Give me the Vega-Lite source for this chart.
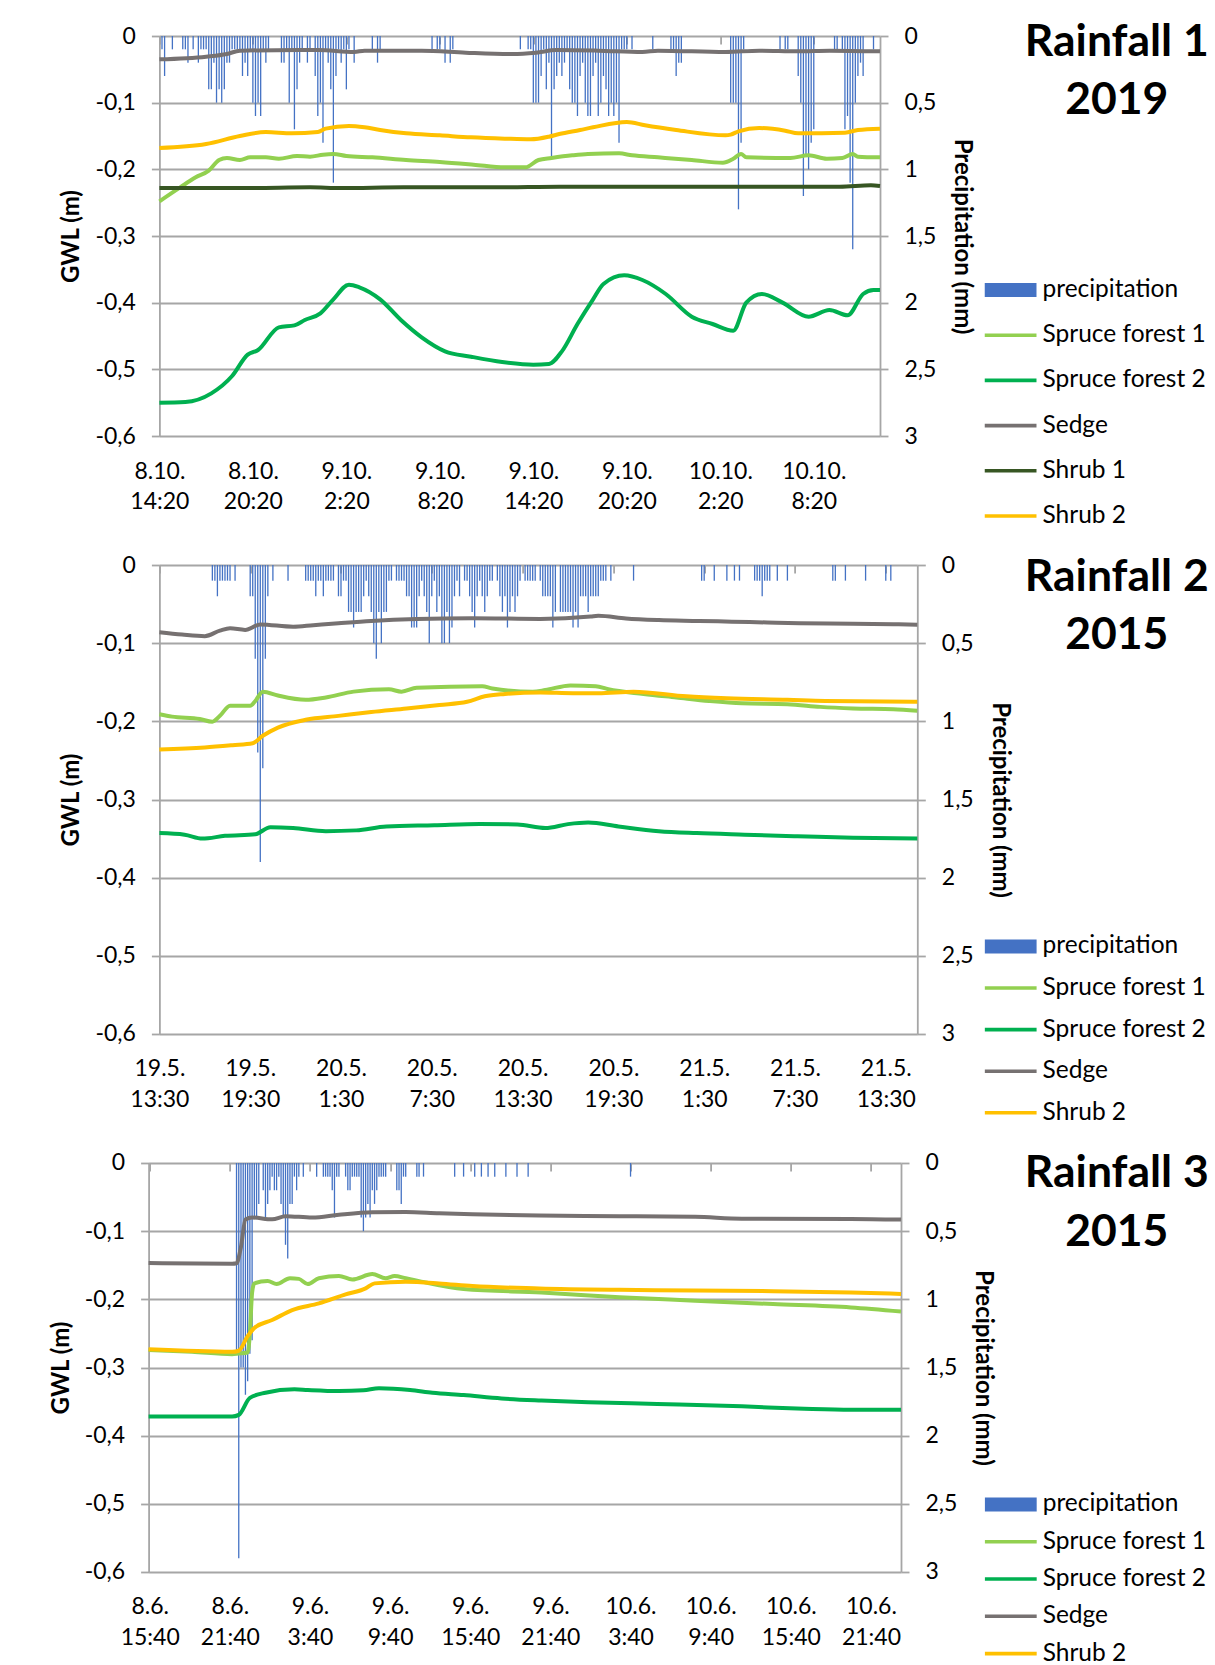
{
  "$schema": "https://vega.github.io/schema/vega-lite/v6.json",
  "background": "white",
  "padding": {"left": 48.6, "top": 19, "right": 0, "bottom": 0},
  "config": {
    "font": "Lato",
    "view": {"stroke": null},
    "axis": {
      "labelFont": "Lato", "labelFontSize": 23, "labelColor": "#000000",
      "titleFont": "Lato", "titleFontSize": 24, "titleFontWeight": "bold", "titleColor": "#000000",
      "gridColor": "#A6A6A6", "gridWidth": 1.8,
      "domainColor": "#A6A6A6", "domainWidth": 1.8,
      "tickColor": "#A6A6A6", "tickWidth": 1.8, "tickSize": 8,
      "labelPadding": 16
    },
    "legend": {
      "labelFont": "Lato", "labelFontSize": 24.5, "labelColor": "#000000", "labelLimit": 400,
      "symbolSize": 2704, "symbolStrokeWidth": 0, "labelOffset": 6, "padding": 0, "clipHeight": 25
    },
    "title": {
      "font": "Lato", "fontSize": 44.5, "fontWeight": "bold", "color": "#000000",
      "anchor": "start", "frame": "group", "baseline": "alphabetic",
      "lineHeight": 59, "offset": 0
    }
  },
  "datasets": {
    "rain1": [
      {"t":"2019-10-08T14:30","p":0.1},{"t":"2019-10-08T14:40","p":0.3},{"t":"2019-10-08T15:10","p":0.1},{"t":"2019-10-08T15:50","p":0.1},
      {"t":"2019-10-08T16:00","p":0.1},{"t":"2019-10-08T16:10","p":0.2},{"t":"2019-10-08T16:30","p":0.1},{"t":"2019-10-08T16:50","p":0.2},
      {"t":"2019-10-08T17:00","p":0.1},{"t":"2019-10-08T17:10","p":0.1},{"t":"2019-10-08T17:20","p":0.1},{"t":"2019-10-08T17:30","p":0.4},
      {"t":"2019-10-08T17:40","p":0.4},{"t":"2019-10-08T17:50","p":0.2},{"t":"2019-10-08T18:00","p":0.5},{"t":"2019-10-08T18:10","p":0.4},
      {"t":"2019-10-08T18:20","p":0.5},{"t":"2019-10-08T18:30","p":0.4},{"t":"2019-10-08T18:40","p":0.2},{"t":"2019-10-08T18:50","p":0.2},
      {"t":"2019-10-08T19:00","p":0.1},{"t":"2019-10-08T19:10","p":0.1},{"t":"2019-10-08T19:20","p":0.1},{"t":"2019-10-08T19:30","p":0.1},
      {"t":"2019-10-08T19:40","p":0.3},{"t":"2019-10-08T19:50","p":0.2},{"t":"2019-10-08T20:00","p":0.3},{"t":"2019-10-08T20:10","p":0.1},
      {"t":"2019-10-08T20:20","p":0.5},{"t":"2019-10-08T20:30","p":0.6},{"t":"2019-10-08T20:40","p":0.5},{"t":"2019-10-08T20:50","p":0.6},
      {"t":"2019-10-08T21:00","p":0.1},{"t":"2019-10-08T21:10","p":0.2},{"t":"2019-10-08T21:20","p":0.1},{"t":"2019-10-08T22:10","p":0.2},
      {"t":"2019-10-08T22:20","p":0.2},{"t":"2019-10-08T22:30","p":0.1},{"t":"2019-10-08T22:40","p":0.5},{"t":"2019-10-08T22:50","p":0.1},
      {"t":"2019-10-08T23:00","p":0.7},{"t":"2019-10-08T23:10","p":0.4},{"t":"2019-10-08T23:20","p":0.2},{"t":"2019-10-08T23:30","p":0.1},
      {"t":"2019-10-08T23:50","p":0.2},
      {"t":"2019-10-09T00:00","p":0.1},{"t":"2019-10-09T00:20","p":0.3},{"t":"2019-10-09T00:30","p":0.6},{"t":"2019-10-09T00:40","p":0.5},
      {"t":"2019-10-09T00:50","p":0.8},{"t":"2019-10-09T01:00","p":0.1},{"t":"2019-10-09T01:10","p":0.2},{"t":"2019-10-09T01:20","p":0.4},
      {"t":"2019-10-09T01:30","p":1.1},{"t":"2019-10-09T01:40","p":0.3},{"t":"2019-10-09T01:50","p":0.1},{"t":"2019-10-09T02:00","p":0.2},
      {"t":"2019-10-09T02:10","p":0.1},{"t":"2019-10-09T02:20","p":0.4},{"t":"2019-10-09T02:30","p":0.1},{"t":"2019-10-09T02:50","p":0.2},
      {"t":"2019-10-09T04:00","p":0.1},{"t":"2019-10-09T04:20","p":0.2},{"t":"2019-10-09T04:30","p":0.1},{"t":"2019-10-09T07:50","p":0.1},
      {"t":"2019-10-09T08:10","p":0.1},{"t":"2019-10-09T08:20","p":0.1},{"t":"2019-10-09T08:40","p":0.2},{"t":"2019-10-09T09:00","p":0.2},
      {"t":"2019-10-09T09:10","p":0.1},{"t":"2019-10-09T13:30","p":0.1},{"t":"2019-10-09T14:00","p":0.1},{"t":"2019-10-09T14:10","p":0.1},
      {"t":"2019-10-09T14:20","p":0.5},{"t":"2019-10-09T14:30","p":0.5},{"t":"2019-10-09T14:40","p":0.5},{"t":"2019-10-09T14:50","p":0.3},
      {"t":"2019-10-09T15:00","p":0.1},{"t":"2019-10-09T15:10","p":0.4},{"t":"2019-10-09T15:20","p":0.2},{"t":"2019-10-09T15:30","p":0.9},
      {"t":"2019-10-09T15:40","p":0.4},{"t":"2019-10-09T15:50","p":0.3},{"t":"2019-10-09T16:00","p":0.2},{"t":"2019-10-09T16:10","p":0.3},
      {"t":"2019-10-09T16:20","p":0.2},{"t":"2019-10-09T16:30","p":0.1},{"t":"2019-10-09T16:40","p":0.4},{"t":"2019-10-09T16:50","p":0.5},
      {"t":"2019-10-09T17:00","p":0.5},{"t":"2019-10-09T17:10","p":0.6},{"t":"2019-10-09T17:20","p":0.3},{"t":"2019-10-09T17:30","p":0.2},
      {"t":"2019-10-09T17:40","p":0.5},{"t":"2019-10-09T17:50","p":0.6},{"t":"2019-10-09T18:00","p":0.6},{"t":"2019-10-09T18:10","p":0.3},
      {"t":"2019-10-09T18:20","p":0.2},{"t":"2019-10-09T18:30","p":0.6},{"t":"2019-10-09T18:40","p":0.5},{"t":"2019-10-09T18:50","p":0.3},
      {"t":"2019-10-09T19:00","p":0.4},{"t":"2019-10-09T19:10","p":0.6},{"t":"2019-10-09T19:20","p":0.5},{"t":"2019-10-09T19:30","p":0.6},
      {"t":"2019-10-09T19:40","p":0.5},{"t":"2019-10-09T19:50","p":0.8},{"t":"2019-10-09T20:00","p":0.1},{"t":"2019-10-09T20:10","p":0.1},
      {"t":"2019-10-09T20:20","p":0.1},{"t":"2019-10-09T20:40","p":0.1},{"t":"2019-10-09T22:00","p":0.1},{"t":"2019-10-09T23:10","p":0.1},
      {"t":"2019-10-09T23:20","p":0.1},{"t":"2019-10-09T23:30","p":0.3},{"t":"2019-10-09T23:40","p":0.2},{"t":"2019-10-09T23:50","p":0.2},
      {"t":"2019-10-10T03:00","p":0.5},{"t":"2019-10-10T03:10","p":0.5},{"t":"2019-10-10T03:20","p":0.5},{"t":"2019-10-10T03:30","p":1.3},
      {"t":"2019-10-10T03:40","p":0.8},{"t":"2019-10-10T03:50","p":0.1},{"t":"2019-10-10T06:10","p":0.1},{"t":"2019-10-10T06:30","p":0.1},
      {"t":"2019-10-10T06:40","p":0.1},{"t":"2019-10-10T07:20","p":0.3},{"t":"2019-10-10T07:30","p":0.5},{"t":"2019-10-10T07:40","p":1.2},
      {"t":"2019-10-10T07:50","p":0.9},{"t":"2019-10-10T08:00","p":1.0},{"t":"2019-10-10T08:10","p":0.8},{"t":"2019-10-10T08:20","p":0.7},
      {"t":"2019-10-10T09:40","p":0.1},{"t":"2019-10-10T09:50","p":0.1},{"t":"2019-10-10T10:10","p":0.1},{"t":"2019-10-10T10:20","p":0.7},
      {"t":"2019-10-10T10:30","p":0.6},{"t":"2019-10-10T10:40","p":1.1},{"t":"2019-10-10T10:50","p":1.6},{"t":"2019-10-10T11:00","p":0.5},
      {"t":"2019-10-10T11:10","p":0.3},{"t":"2019-10-10T11:20","p":0.2},{"t":"2019-10-10T11:30","p":0.3},{"t":"2019-10-10T12:10","p":0.1}
    ],
    "gwl1": [
      {"t":"2019-10-08T14:20","s":"Sedge","v":-0.035},{"t":"2019-10-08T17:20","s":"Sedge","v":-0.031},{"t":"2019-10-08T18:40","s":"Sedge","v":-0.027},
      {"t":"2019-10-08T19:30","s":"Sedge","v":-0.022},{"t":"2019-10-08T23:20","s":"Sedge","v":-0.021},{"t":"2019-10-09T00:30","s":"Sedge","v":-0.021},
      {"t":"2019-10-09T02:50","s":"Sedge","v":-0.024},{"t":"2019-10-09T03:30","s":"Sedge","v":-0.022},{"t":"2019-10-09T07:10","s":"Sedge","v":-0.022},
      {"t":"2019-10-09T10:00","s":"Sedge","v":-0.025},{"t":"2019-10-09T13:00","s":"Sedge","v":-0.027},{"t":"2019-10-09T14:30","s":"Sedge","v":-0.025},
      {"t":"2019-10-09T15:50","s":"Sedge","v":-0.021},{"t":"2019-10-09T18:30","s":"Sedge","v":-0.022},{"t":"2019-10-09T21:20","s":"Sedge","v":-0.024},
      {"t":"2019-10-09T22:20","s":"Sedge","v":-0.022},{"t":"2019-10-10T02:40","s":"Sedge","v":-0.024},{"t":"2019-10-10T04:50","s":"Sedge","v":-0.022},
      {"t":"2019-10-10T07:20","s":"Sedge","v":-0.023},{"t":"2019-10-10T09:20","s":"Sedge","v":-0.022},{"t":"2019-10-10T12:35","s":"Sedge","v":-0.023},

      {"t":"2019-10-08T14:20","s":"Shrub 2","v":-0.168},{"t":"2019-10-08T17:20","s":"Shrub 2","v":-0.162},{"t":"2019-10-08T19:30","s":"Shrub 2","v":-0.150},
      {"t":"2019-10-08T21:10","s":"Shrub 2","v":-0.144},{"t":"2019-10-08T22:50","s":"Shrub 2","v":-0.146},{"t":"2019-10-09T00:30","s":"Shrub 2","v":-0.144},
      {"t":"2019-10-09T01:00","s":"Shrub 2","v":-0.139},{"t":"2019-10-09T02:30","s":"Shrub 2","v":-0.135},{"t":"2019-10-09T03:30","s":"Shrub 2","v":-0.137},
      {"t":"2019-10-09T04:30","s":"Shrub 2","v":-0.141},{"t":"2019-10-09T06:10","s":"Shrub 2","v":-0.146},{"t":"2019-10-09T08:20","s":"Shrub 2","v":-0.149},
      {"t":"2019-10-09T10:20","s":"Shrub 2","v":-0.152},{"t":"2019-10-09T12:30","s":"Shrub 2","v":-0.154},{"t":"2019-10-09T14:10","s":"Shrub 2","v":-0.155},
      {"t":"2019-10-09T15:20","s":"Shrub 2","v":-0.151},{"t":"2019-10-09T16:00","s":"Shrub 2","v":-0.147},{"t":"2019-10-09T17:20","s":"Shrub 2","v":-0.141},
      {"t":"2019-10-09T18:10","s":"Shrub 2","v":-0.137},{"t":"2019-10-09T20:20","s":"Shrub 2","v":-0.129},{"t":"2019-10-09T21:30","s":"Shrub 2","v":-0.134},
      {"t":"2019-10-09T23:30","s":"Shrub 2","v":-0.141},{"t":"2019-10-10T02:40","s":"Shrub 2","v":-0.149},{"t":"2019-10-10T03:00","s":"Shrub 2","v":-0.148},
      {"t":"2019-10-10T03:30","s":"Shrub 2","v":-0.143},{"t":"2019-10-10T04:50","s":"Shrub 2","v":-0.138},{"t":"2019-10-10T06:30","s":"Shrub 2","v":-0.142},
      {"t":"2019-10-10T07:20","s":"Shrub 2","v":-0.146},{"t":"2019-10-10T10:20","s":"Shrub 2","v":-0.145},{"t":"2019-10-10T11:10","s":"Shrub 2","v":-0.141},
      {"t":"2019-10-10T12:35","s":"Shrub 2","v":-0.139},

      {"t":"2019-10-08T14:20","s":"Spruce forest 1","v":-0.248},{"t":"2019-10-08T15:40","s":"Spruce forest 1","v":-0.227},{"t":"2019-10-08T16:40","s":"Spruce forest 1","v":-0.212},
      {"t":"2019-10-08T17:30","s":"Spruce forest 1","v":-0.202},{"t":"2019-10-08T18:10","s":"Spruce forest 1","v":-0.186},{"t":"2019-10-08T18:40","s":"Spruce forest 1","v":-0.183},
      {"t":"2019-10-08T19:30","s":"Spruce forest 1","v":-0.186},{"t":"2019-10-08T20:10","s":"Spruce forest 1","v":-0.182},{"t":"2019-10-08T21:10","s":"Spruce forest 1","v":-0.182},
      {"t":"2019-10-08T22:00","s":"Spruce forest 1","v":-0.184},{"t":"2019-10-08T23:10","s":"Spruce forest 1","v":-0.180},{"t":"2019-10-09T00:00","s":"Spruce forest 1","v":-0.181},
      {"t":"2019-10-09T00:50","s":"Spruce forest 1","v":-0.178},{"t":"2019-10-09T01:30","s":"Spruce forest 1","v":-0.177},{"t":"2019-10-09T02:20","s":"Spruce forest 1","v":-0.180},
      {"t":"2019-10-09T04:00","s":"Spruce forest 1","v":-0.182},{"t":"2019-10-09T06:10","s":"Spruce forest 1","v":-0.186},{"t":"2019-10-09T08:20","s":"Spruce forest 1","v":-0.189},
      {"t":"2019-10-09T10:30","s":"Spruce forest 1","v":-0.193},{"t":"2019-10-09T12:30","s":"Spruce forest 1","v":-0.197},{"t":"2019-10-09T13:50","s":"Spruce forest 1","v":-0.197},
      {"t":"2019-10-09T14:40","s":"Spruce forest 1","v":-0.186},{"t":"2019-10-09T15:30","s":"Spruce forest 1","v":-0.183},{"t":"2019-10-09T16:50","s":"Spruce forest 1","v":-0.179},
      {"t":"2019-10-09T17:50","s":"Spruce forest 1","v":-0.177},{"t":"2019-10-09T19:50","s":"Spruce forest 1","v":-0.176},{"t":"2019-10-09T20:40","s":"Spruce forest 1","v":-0.179},
      {"t":"2019-10-09T22:20","s":"Spruce forest 1","v":-0.182},{"t":"2019-10-10T00:30","s":"Spruce forest 1","v":-0.186},{"t":"2019-10-10T02:30","s":"Spruce forest 1","v":-0.190},
      {"t":"2019-10-10T03:10","s":"Spruce forest 1","v":-0.184},{"t":"2019-10-10T03:40","s":"Spruce forest 1","v":-0.177},{"t":"2019-10-10T04:00","s":"Spruce forest 1","v":-0.182},
      {"t":"2019-10-10T06:50","s":"Spruce forest 1","v":-0.183},{"t":"2019-10-10T08:00","s":"Spruce forest 1","v":-0.179},{"t":"2019-10-10T09:10","s":"Spruce forest 1","v":-0.184},
      {"t":"2019-10-10T10:10","s":"Spruce forest 1","v":-0.183},{"t":"2019-10-10T10:50","s":"Spruce forest 1","v":-0.177},{"t":"2019-10-10T11:10","s":"Spruce forest 1","v":-0.181},
      {"t":"2019-10-10T12:35","s":"Spruce forest 1","v":-0.182},

      {"t":"2019-10-08T14:20","s":"Shrub 1","v":-0.228},{"t":"2019-10-08T20:00","s":"Shrub 1","v":-0.228},{"t":"2019-10-09T00:00","s":"Shrub 1","v":-0.227},
      {"t":"2019-10-09T02:00","s":"Shrub 1","v":-0.228},{"t":"2019-10-09T06:00","s":"Shrub 1","v":-0.227},{"t":"2019-10-09T12:00","s":"Shrub 1","v":-0.227},
      {"t":"2019-10-09T16:00","s":"Shrub 1","v":-0.226},{"t":"2019-10-09T20:00","s":"Shrub 1","v":-0.226},{"t":"2019-10-10T02:00","s":"Shrub 1","v":-0.226},
      {"t":"2019-10-10T06:00","s":"Shrub 1","v":-0.226},{"t":"2019-10-10T10:00","s":"Shrub 1","v":-0.226},{"t":"2019-10-10T12:00","s":"Shrub 1","v":-0.224},
      {"t":"2019-10-10T12:35","s":"Shrub 1","v":-0.225},

      {"t":"2019-10-08T14:20","s":"Spruce forest 2","v":-0.550},{"t":"2019-10-08T16:00","s":"Spruce forest 2","v":-0.549},{"t":"2019-10-08T17:40","s":"Spruce forest 2","v":-0.536},
      {"t":"2019-10-08T19:00","s":"Spruce forest 2","v":-0.510},{"t":"2019-10-08T20:00","s":"Spruce forest 2","v":-0.478},{"t":"2019-10-08T20:40","s":"Spruce forest 2","v":-0.471},
      {"t":"2019-10-08T22:00","s":"Spruce forest 2","v":-0.437},{"t":"2019-10-08T23:00","s":"Spruce forest 2","v":-0.434},{"t":"2019-10-08T23:40","s":"Spruce forest 2","v":-0.426},
      {"t":"2019-10-09T00:40","s":"Spruce forest 2","v":-0.416},{"t":"2019-10-09T01:30","s":"Spruce forest 2","v":-0.395},{"t":"2019-10-09T02:30","s":"Spruce forest 2","v":-0.373},
      {"t":"2019-10-09T03:10","s":"Spruce forest 2","v":-0.377},{"t":"2019-10-09T04:30","s":"Spruce forest 2","v":-0.395},{"t":"2019-10-09T05:50","s":"Spruce forest 2","v":-0.426},
      {"t":"2019-10-09T07:10","s":"Spruce forest 2","v":-0.452},{"t":"2019-10-09T08:40","s":"Spruce forest 2","v":-0.473},{"t":"2019-10-09T10:20","s":"Spruce forest 2","v":-0.481},
      {"t":"2019-10-09T12:20","s":"Spruce forest 2","v":-0.489},{"t":"2019-10-09T14:20","s":"Spruce forest 2","v":-0.493},{"t":"2019-10-09T15:20","s":"Spruce forest 2","v":-0.492},
      {"t":"2019-10-09T16:10","s":"Spruce forest 2","v":-0.473},{"t":"2019-10-09T17:10","s":"Spruce forest 2","v":-0.432},{"t":"2019-10-09T18:10","s":"Spruce forest 2","v":-0.395},
      {"t":"2019-10-09T18:50","s":"Spruce forest 2","v":-0.372},{"t":"2019-10-09T20:10","s":"Spruce forest 2","v":-0.359},{"t":"2019-10-09T21:20","s":"Spruce forest 2","v":-0.366},
      {"t":"2019-10-09T22:50","s":"Spruce forest 2","v":-0.387},{"t":"2019-10-10T00:30","s":"Spruce forest 2","v":-0.421},{"t":"2019-10-10T01:50","s":"Spruce forest 2","v":-0.432},
      {"t":"2019-10-10T03:10","s":"Spruce forest 2","v":-0.442},{"t":"2019-10-10T04:00","s":"Spruce forest 2","v":-0.400},{"t":"2019-10-10T05:00","s":"Spruce forest 2","v":-0.387},
      {"t":"2019-10-10T06:20","s":"Spruce forest 2","v":-0.400},{"t":"2019-10-10T08:00","s":"Spruce forest 2","v":-0.421},{"t":"2019-10-10T09:20","s":"Spruce forest 2","v":-0.411},
      {"t":"2019-10-10T10:30","s":"Spruce forest 2","v":-0.419},{"t":"2019-10-10T11:30","s":"Spruce forest 2","v":-0.387},{"t":"2019-10-10T12:10","s":"Spruce forest 2","v":-0.381},
      {"t":"2019-10-10T12:35","s":"Spruce forest 2","v":-0.381}
    ],
    "rain2": [
      {"t":"2015-05-19T17:00","p":0.1},{"t":"2015-05-19T17:10","p":0.1},{"t":"2015-05-19T17:20","p":0.2},{"t":"2015-05-19T17:30","p":0.1},
      {"t":"2015-05-19T17:40","p":0.1},{"t":"2015-05-19T17:50","p":0.1},{"t":"2015-05-19T18:00","p":0.1},{"t":"2015-05-19T18:10","p":0.1},
      {"t":"2015-05-19T18:30","p":0.1},{"t":"2015-05-19T19:30","p":0.2},{"t":"2015-05-19T19:40","p":0.2},{"t":"2015-05-19T19:50","p":0.6},
      {"t":"2015-05-19T20:00","p":1.2},{"t":"2015-05-19T20:10","p":1.9},{"t":"2015-05-19T20:20","p":1.3},{"t":"2015-05-19T20:30","p":0.6},
      {"t":"2015-05-19T20:40","p":0.2},{"t":"2015-05-19T21:00","p":0.1},{"t":"2015-05-19T22:00","p":0.1},{"t":"2015-05-19T23:10","p":0.1},
      {"t":"2015-05-19T23:20","p":0.1},{"t":"2015-05-19T23:30","p":0.1},{"t":"2015-05-19T23:40","p":0.1},{"t":"2015-05-19T23:50","p":0.2},
      {"t":"2015-05-20T00:00","p":0.1},{"t":"2015-05-20T00:10","p":0.1},{"t":"2015-05-20T00:20","p":0.2},{"t":"2015-05-20T00:30","p":0.1},
      {"t":"2015-05-20T00:40","p":0.1},{"t":"2015-05-20T00:50","p":0.1},{"t":"2015-05-20T01:00","p":0.1},{"t":"2015-05-20T01:20","p":0.2},
      {"t":"2015-05-20T01:30","p":0.2},{"t":"2015-05-20T01:40","p":0.1},{"t":"2015-05-20T01:50","p":0.1},{"t":"2015-05-20T02:00","p":0.3},
      {"t":"2015-05-20T02:10","p":0.3},{"t":"2015-05-20T02:20","p":0.4},{"t":"2015-05-20T02:30","p":0.3},{"t":"2015-05-20T02:40","p":0.3},
      {"t":"2015-05-20T02:50","p":0.3},{"t":"2015-05-20T03:00","p":0.2},{"t":"2015-05-20T03:10","p":0.1},{"t":"2015-05-20T03:20","p":0.2},
      {"t":"2015-05-20T03:30","p":0.3},{"t":"2015-05-20T03:40","p":0.5},{"t":"2015-05-20T03:50","p":0.6},{"t":"2015-05-20T04:00","p":0.3},
      {"t":"2015-05-20T04:10","p":0.5},{"t":"2015-05-20T04:20","p":0.3},{"t":"2015-05-20T04:30","p":0.3},{"t":"2015-05-20T04:40","p":0.1},
      {"t":"2015-05-20T04:50","p":0.1},{"t":"2015-05-20T05:10","p":0.1},{"t":"2015-05-20T05:20","p":0.1},{"t":"2015-05-20T05:30","p":0.1},
      {"t":"2015-05-20T05:40","p":0.1},{"t":"2015-05-20T05:50","p":0.2},{"t":"2015-05-20T06:00","p":0.2},{"t":"2015-05-20T06:10","p":0.4},
      {"t":"2015-05-20T06:20","p":0.4},{"t":"2015-05-20T06:30","p":0.4},{"t":"2015-05-20T06:40","p":0.2},{"t":"2015-05-20T06:50","p":0.1},
      {"t":"2015-05-20T07:00","p":0.2},{"t":"2015-05-20T07:10","p":0.3},{"t":"2015-05-20T07:20","p":0.5},{"t":"2015-05-20T07:30","p":0.2},
      {"t":"2015-05-20T07:40","p":0.1},{"t":"2015-05-20T07:50","p":0.3},{"t":"2015-05-20T08:00","p":0.2},{"t":"2015-05-20T08:10","p":0.5},
      {"t":"2015-05-20T08:20","p":0.5},{"t":"2015-05-20T08:30","p":0.3},{"t":"2015-05-20T08:40","p":0.5},{"t":"2015-05-20T08:50","p":0.4},
      {"t":"2015-05-20T09:00","p":0.2},{"t":"2015-05-20T09:10","p":0.1},{"t":"2015-05-20T09:20","p":0.2},{"t":"2015-05-20T09:40","p":0.1},
      {"t":"2015-05-20T09:50","p":0.1},{"t":"2015-05-20T10:00","p":0.2},{"t":"2015-05-20T10:10","p":0.3},{"t":"2015-05-20T10:20","p":0.4},
      {"t":"2015-05-20T10:30","p":0.2},{"t":"2015-05-20T10:40","p":0.1},{"t":"2015-05-20T10:50","p":0.2},{"t":"2015-05-20T11:00","p":0.3},
      {"t":"2015-05-20T11:10","p":0.2},{"t":"2015-05-20T11:20","p":0.1},{"t":"2015-05-20T11:30","p":0.1},{"t":"2015-05-20T11:50","p":0.1},
      {"t":"2015-05-20T12:00","p":0.2},{"t":"2015-05-20T12:10","p":0.3},{"t":"2015-05-20T12:20","p":0.2},{"t":"2015-05-20T12:30","p":0.4},
      {"t":"2015-05-20T12:40","p":0.3},{"t":"2015-05-20T12:50","p":0.2},{"t":"2015-05-20T13:00","p":0.3},{"t":"2015-05-20T13:10","p":0.2},
      {"t":"2015-05-20T13:20","p":0.1},{"t":"2015-05-20T13:40","p":0.1},{"t":"2015-05-20T13:50","p":0.1},{"t":"2015-05-20T14:00","p":0.1},
      {"t":"2015-05-20T14:10","p":0.1},{"t":"2015-05-20T14:20","p":0.1},{"t":"2015-05-20T14:40","p":0.1},{"t":"2015-05-20T14:50","p":0.2},
      {"t":"2015-05-20T15:00","p":0.2},{"t":"2015-05-20T15:10","p":0.2},{"t":"2015-05-20T15:20","p":0.2},{"t":"2015-05-20T15:30","p":0.4},
      {"t":"2015-05-20T15:40","p":0.3},{"t":"2015-05-20T16:00","p":0.3},{"t":"2015-05-20T16:10","p":0.3},{"t":"2015-05-20T16:20","p":0.3},
      {"t":"2015-05-20T16:30","p":0.3},{"t":"2015-05-20T16:40","p":0.3},{"t":"2015-05-20T16:50","p":0.4},{"t":"2015-05-20T17:00","p":0.3},
      {"t":"2015-05-20T17:10","p":0.4},{"t":"2015-05-20T17:20","p":0.2},{"t":"2015-05-20T17:30","p":0.2},{"t":"2015-05-20T17:40","p":0.2},
      {"t":"2015-05-20T17:50","p":0.3},{"t":"2015-05-20T18:00","p":0.2},{"t":"2015-05-20T18:10","p":0.2},{"t":"2015-05-20T18:20","p":0.2},
      {"t":"2015-05-20T18:30","p":0.2},{"t":"2015-05-20T18:40","p":0.1},{"t":"2015-05-20T18:50","p":0.1},{"t":"2015-05-20T19:00","p":0.1},
      {"t":"2015-05-20T19:20","p":0.1},{"t":"2015-05-20T20:50","p":0.1},
      {"t":"2015-05-21T01:20","p":0.1},{"t":"2015-05-21T01:30","p":0.1},{"t":"2015-05-21T02:10","p":0.1},{"t":"2015-05-21T03:00","p":0.1},
      {"t":"2015-05-21T03:30","p":0.1},{"t":"2015-05-21T03:50","p":0.1},{"t":"2015-05-21T04:50","p":0.1},{"t":"2015-05-21T05:00","p":0.1},
      {"t":"2015-05-21T05:10","p":0.1},{"t":"2015-05-21T05:20","p":0.2},{"t":"2015-05-21T05:30","p":0.1},{"t":"2015-05-21T05:40","p":0.1},
      {"t":"2015-05-21T05:50","p":0.1},{"t":"2015-05-21T06:20","p":0.1},{"t":"2015-05-21T07:00","p":0.1},{"t":"2015-05-21T10:00","p":0.1},
      {"t":"2015-05-21T10:10","p":0.1},{"t":"2015-05-21T10:50","p":0.1},{"t":"2015-05-21T12:10","p":0.1},{"t":"2015-05-21T13:30","p":0.1},
      {"t":"2015-05-21T13:50","p":0.1}
    ],
    "gwl2": [
      {"t":"2015-05-19T13:30","s":"Sedge","v":-0.086},{"t":"2015-05-19T15:00","s":"Sedge","v":-0.089},{"t":"2015-05-19T16:30","s":"Sedge","v":-0.091},
      {"t":"2015-05-19T17:30","s":"Sedge","v":-0.084},{"t":"2015-05-19T18:10","s":"Sedge","v":-0.081},{"t":"2015-05-19T19:10","s":"Sedge","v":-0.083},
      {"t":"2015-05-19T20:10","s":"Sedge","v":-0.076},{"t":"2015-05-19T22:20","s":"Sedge","v":-0.079},{"t":"2015-05-19T23:40","s":"Sedge","v":-0.077},
      {"t":"2015-05-20T01:20","s":"Sedge","v":-0.0745},{"t":"2015-05-20T03:30","s":"Sedge","v":-0.0715},{"t":"2015-05-20T06:30","s":"Sedge","v":-0.069},
      {"t":"2015-05-20T10:10","s":"Sedge","v":-0.068},{"t":"2015-05-20T14:40","s":"Sedge","v":-0.069},{"t":"2015-05-20T18:00","s":"Sedge","v":-0.066},
      {"t":"2015-05-20T18:30","s":"Sedge","v":-0.065},{"t":"2015-05-20T20:20","s":"Sedge","v":-0.0685},{"t":"2015-05-20T22:30","s":"Sedge","v":-0.0705},
      {"t":"2015-05-21T01:10","s":"Sedge","v":-0.0715},{"t":"2015-05-21T03:20","s":"Sedge","v":-0.0725},{"t":"2015-05-21T05:40","s":"Sedge","v":-0.0735},
      {"t":"2015-05-21T07:50","s":"Sedge","v":-0.0745},{"t":"2015-05-21T11:20","s":"Sedge","v":-0.075},{"t":"2015-05-21T14:00","s":"Sedge","v":-0.0758},
      {"t":"2015-05-21T15:35","s":"Sedge","v":-0.0765},

      {"t":"2015-05-19T13:30","s":"Spruce forest 1","v":-0.191},{"t":"2015-05-19T14:20","s":"Spruce forest 1","v":-0.194},{"t":"2015-05-19T16:10","s":"Spruce forest 1","v":-0.197},
      {"t":"2015-05-19T17:00","s":"Spruce forest 1","v":-0.2005},{"t":"2015-05-19T17:30","s":"Spruce forest 1","v":-0.193},{"t":"2015-05-19T18:10","s":"Spruce forest 1","v":-0.180},
      {"t":"2015-05-19T19:30","s":"Spruce forest 1","v":-0.180},{"t":"2015-05-19T19:50","s":"Spruce forest 1","v":-0.174},{"t":"2015-05-19T20:20","s":"Spruce forest 1","v":-0.162},
      {"t":"2015-05-19T21:20","s":"Spruce forest 1","v":-0.167},{"t":"2015-05-19T23:10","s":"Spruce forest 1","v":-0.1725},{"t":"2015-05-20T00:30","s":"Spruce forest 1","v":-0.1695},
      {"t":"2015-05-20T02:20","s":"Spruce forest 1","v":-0.162},{"t":"2015-05-20T04:40","s":"Spruce forest 1","v":-0.159},{"t":"2015-05-20T05:30","s":"Spruce forest 1","v":-0.162},
      {"t":"2015-05-20T06:30","s":"Spruce forest 1","v":-0.157},{"t":"2015-05-20T10:50","s":"Spruce forest 1","v":-0.155},{"t":"2015-05-20T11:30","s":"Spruce forest 1","v":-0.158},
      {"t":"2015-05-20T14:10","s":"Spruce forest 1","v":-0.162},{"t":"2015-05-20T15:00","s":"Spruce forest 1","v":-0.160},{"t":"2015-05-20T16:40","s":"Spruce forest 1","v":-0.154},
      {"t":"2015-05-20T18:20","s":"Spruce forest 1","v":-0.155},{"t":"2015-05-20T19:10","s":"Spruce forest 1","v":-0.159},{"t":"2015-05-20T21:30","s":"Spruce forest 1","v":-0.165},
      {"t":"2015-05-20T23:40","s":"Spruce forest 1","v":-0.1695},{"t":"2015-05-21T01:50","s":"Spruce forest 1","v":-0.174},{"t":"2015-05-21T04:00","s":"Spruce forest 1","v":-0.177},
      {"t":"2015-05-21T07:00","s":"Spruce forest 1","v":-0.178},{"t":"2015-05-21T09:10","s":"Spruce forest 1","v":-0.1815},{"t":"2015-05-21T11:20","s":"Spruce forest 1","v":-0.1835},
      {"t":"2015-05-21T14:00","s":"Spruce forest 1","v":-0.1845},{"t":"2015-05-21T15:35","s":"Spruce forest 1","v":-0.1865},

      {"t":"2015-05-19T13:30","s":"Shrub 2","v":-0.236},{"t":"2015-05-19T16:30","s":"Shrub 2","v":-0.2335},{"t":"2015-05-19T18:20","s":"Shrub 2","v":-0.2305},
      {"t":"2015-05-19T19:40","s":"Shrub 2","v":-0.228},{"t":"2015-05-19T20:20","s":"Shrub 2","v":-0.2185},{"t":"2015-05-19T21:20","s":"Shrub 2","v":-0.208},
      {"t":"2015-05-19T23:10","s":"Shrub 2","v":-0.198},{"t":"2015-05-20T01:20","s":"Shrub 2","v":-0.193},{"t":"2015-05-20T03:30","s":"Shrub 2","v":-0.188},
      {"t":"2015-05-20T05:50","s":"Shrub 2","v":-0.1835},{"t":"2015-05-20T08:00","s":"Shrub 2","v":-0.179},{"t":"2015-05-20T09:50","s":"Shrub 2","v":-0.175},
      {"t":"2015-05-20T11:00","s":"Shrub 2","v":-0.168},{"t":"2015-05-20T12:20","s":"Shrub 2","v":-0.165},{"t":"2015-05-20T14:40","s":"Shrub 2","v":-0.163},
      {"t":"2015-05-20T16:50","s":"Shrub 2","v":-0.164},{"t":"2015-05-20T18:30","s":"Shrub 2","v":-0.164},{"t":"2015-05-20T20:50","s":"Shrub 2","v":-0.162},
      {"t":"2015-05-21T00:20","s":"Shrub 2","v":-0.168},{"t":"2015-05-21T03:00","s":"Shrub 2","v":-0.1705},{"t":"2015-05-21T07:00","s":"Shrub 2","v":-0.1725},
      {"t":"2015-05-21T09:30","s":"Shrub 2","v":-0.174},{"t":"2015-05-21T15:35","s":"Shrub 2","v":-0.175},

      {"t":"2015-05-19T13:30","s":"Spruce forest 2","v":-0.343},{"t":"2015-05-19T15:10","s":"Spruce forest 2","v":-0.345},{"t":"2015-05-19T16:20","s":"Spruce forest 2","v":-0.350},
      {"t":"2015-05-19T17:50","s":"Spruce forest 2","v":-0.3465},{"t":"2015-05-19T19:50","s":"Spruce forest 2","v":-0.3445},{"t":"2015-05-19T20:50","s":"Spruce forest 2","v":-0.3355},
      {"t":"2015-05-19T22:20","s":"Spruce forest 2","v":-0.3365},{"t":"2015-05-20T00:30","s":"Spruce forest 2","v":-0.3405},{"t":"2015-05-20T02:30","s":"Spruce forest 2","v":-0.3395},
      {"t":"2015-05-20T04:30","s":"Spruce forest 2","v":-0.3345},{"t":"2015-05-20T07:40","s":"Spruce forest 2","v":-0.333},{"t":"2015-05-20T10:40","s":"Spruce forest 2","v":-0.3315},
      {"t":"2015-05-20T13:10","s":"Spruce forest 2","v":-0.332},{"t":"2015-05-20T15:00","s":"Spruce forest 2","v":-0.3365},{"t":"2015-05-20T16:30","s":"Spruce forest 2","v":-0.3315},
      {"t":"2015-05-20T17:50","s":"Spruce forest 2","v":-0.3295},{"t":"2015-05-20T19:50","s":"Spruce forest 2","v":-0.3345},{"t":"2015-05-20T22:30","s":"Spruce forest 2","v":-0.3405},
      {"t":"2015-05-21T01:00","s":"Spruce forest 2","v":-0.343},{"t":"2015-05-21T04:10","s":"Spruce forest 2","v":-0.345},{"t":"2015-05-21T07:40","s":"Spruce forest 2","v":-0.347},
      {"t":"2015-05-21T11:20","s":"Spruce forest 2","v":-0.349},{"t":"2015-05-21T15:35","s":"Spruce forest 2","v":-0.350}
    ],
    "rain3": [
      {"t":"2015-06-08T22:10","p":1.4},{"t":"2015-06-08T22:20","p":2.9},{"t":"2015-06-08T22:30","p":1.5},{"t":"2015-06-08T22:40","p":1.5},
      {"t":"2015-06-08T22:50","p":1.7},{"t":"2015-06-08T23:00","p":1.6},{"t":"2015-06-08T23:10","p":1.4},{"t":"2015-06-08T23:20","p":1.3},
      {"t":"2015-06-08T23:30","p":0.4},{"t":"2015-06-08T23:40","p":0.4},{"t":"2015-06-08T23:50","p":0.3},
      {"t":"2015-06-09T00:10","p":0.2},{"t":"2015-06-09T00:20","p":0.4},{"t":"2015-06-09T00:30","p":0.3},{"t":"2015-06-09T00:40","p":0.2},
      {"t":"2015-06-09T00:50","p":0.1},{"t":"2015-06-09T01:00","p":0.2},{"t":"2015-06-09T01:10","p":0.2},{"t":"2015-06-09T01:20","p":0.1},
      {"t":"2015-06-09T01:30","p":0.3},{"t":"2015-06-09T01:40","p":0.4},{"t":"2015-06-09T01:50","p":0.6},{"t":"2015-06-09T02:00","p":0.7},
      {"t":"2015-06-09T02:10","p":0.3},{"t":"2015-06-09T02:20","p":0.3},{"t":"2015-06-09T02:30","p":0.1},{"t":"2015-06-09T02:40","p":0.2},
      {"t":"2015-06-09T02:50","p":0.1},{"t":"2015-06-09T03:10","p":0.1},{"t":"2015-06-09T04:10","p":0.1},{"t":"2015-06-09T04:40","p":0.1},
      {"t":"2015-06-09T04:50","p":0.1},{"t":"2015-06-09T05:00","p":0.1},{"t":"2015-06-09T05:10","p":0.1},{"t":"2015-06-09T05:20","p":0.2},
      {"t":"2015-06-09T05:30","p":0.4},{"t":"2015-06-09T05:40","p":0.1},{"t":"2015-06-09T05:50","p":0.1},{"t":"2015-06-09T06:20","p":0.1},
      {"t":"2015-06-09T06:30","p":0.2},{"t":"2015-06-09T06:40","p":0.2},{"t":"2015-06-09T06:50","p":0.1},{"t":"2015-06-09T07:00","p":0.1},
      {"t":"2015-06-09T07:10","p":0.1},{"t":"2015-06-09T07:20","p":0.1},{"t":"2015-06-09T07:30","p":0.4},{"t":"2015-06-09T07:40","p":0.5},
      {"t":"2015-06-09T07:50","p":0.4},{"t":"2015-06-09T08:00","p":0.3},{"t":"2015-06-09T08:10","p":0.4},{"t":"2015-06-09T08:20","p":0.2},
      {"t":"2015-06-09T08:30","p":0.3},{"t":"2015-06-09T08:40","p":0.2},{"t":"2015-06-09T08:50","p":0.1},{"t":"2015-06-09T09:00","p":0.1},
      {"t":"2015-06-09T09:10","p":0.1},{"t":"2015-06-09T09:20","p":0.1},{"t":"2015-06-09T10:10","p":0.2},{"t":"2015-06-09T10:20","p":0.2},
      {"t":"2015-06-09T10:30","p":0.3},{"t":"2015-06-09T10:40","p":0.1},{"t":"2015-06-09T10:50","p":0.1},{"t":"2015-06-09T11:40","p":0.1},
      {"t":"2015-06-09T11:50","p":0.1},{"t":"2015-06-09T12:10","p":0.1},{"t":"2015-06-09T14:30","p":0.1},{"t":"2015-06-09T15:10","p":0.1},
      {"t":"2015-06-09T16:00","p":0.1},{"t":"2015-06-09T16:30","p":0.1},{"t":"2015-06-09T17:00","p":0.1},{"t":"2015-06-09T17:30","p":0.1},
      {"t":"2015-06-09T18:20","p":0.1},{"t":"2015-06-09T19:10","p":0.1},{"t":"2015-06-09T20:00","p":0.1},
      {"t":"2015-06-10T03:40","p":0.1}
    ],
    "gwl3": [
      {"t":"2015-06-08T15:35","s":"Sedge","v":-0.1467},{"t":"2015-06-08T21:50","s":"Sedge","v":-0.1477},{"t":"2015-06-08T22:10","s":"Sedge","v":-0.147},
      {"t":"2015-06-08T22:30","s":"Sedge","v":-0.123},{"t":"2015-06-08T22:50","s":"Sedge","v":-0.083},{"t":"2015-06-08T23:20","s":"Sedge","v":-0.080},
      {"t":"2015-06-09T00:50","s":"Sedge","v":-0.0827},{"t":"2015-06-09T01:50","s":"Sedge","v":-0.078},{"t":"2015-06-09T03:50","s":"Sedge","v":-0.080},
      {"t":"2015-06-09T05:50","s":"Sedge","v":-0.076},{"t":"2015-06-09T08:20","s":"Sedge","v":-0.0724},{"t":"2015-06-09T10:50","s":"Sedge","v":-0.0718},
      {"t":"2015-06-09T13:20","s":"Sedge","v":-0.0738},{"t":"2015-06-09T15:50","s":"Sedge","v":-0.0753},{"t":"2015-06-09T20:50","s":"Sedge","v":-0.0772},
      {"t":"2015-06-10T02:50","s":"Sedge","v":-0.078},{"t":"2015-06-10T08:30","s":"Sedge","v":-0.079},{"t":"2015-06-10T12:00","s":"Sedge","v":-0.0817},
      {"t":"2015-06-10T20:10","s":"Sedge","v":-0.082},{"t":"2015-06-10T23:55","s":"Sedge","v":-0.083},

      {"t":"2015-06-08T15:35","s":"Spruce forest 1","v":-0.2744},{"t":"2015-06-08T18:50","s":"Spruce forest 1","v":-0.277},{"t":"2015-06-08T21:50","s":"Spruce forest 1","v":-0.2804},
      {"t":"2015-06-08T22:20","s":"Spruce forest 1","v":-0.2794},{"t":"2015-06-08T23:00","s":"Spruce forest 1","v":-0.278},{"t":"2015-06-08T23:10","s":"Spruce forest 1","v":-0.25},
      {"t":"2015-06-08T23:20","s":"Spruce forest 1","v":-0.19},{"t":"2015-06-08T23:30","s":"Spruce forest 1","v":-0.1766},{"t":"2015-06-09T00:30","s":"Spruce forest 1","v":-0.173},
      {"t":"2015-06-09T01:10","s":"Spruce forest 1","v":-0.1775},{"t":"2015-06-09T02:10","s":"Spruce forest 1","v":-0.169},{"t":"2015-06-09T02:50","s":"Spruce forest 1","v":-0.170},
      {"t":"2015-06-09T03:30","s":"Spruce forest 1","v":-0.1775},{"t":"2015-06-09T04:20","s":"Spruce forest 1","v":-0.169},{"t":"2015-06-09T05:50","s":"Spruce forest 1","v":-0.1658},
      {"t":"2015-06-09T06:50","s":"Spruce forest 1","v":-0.1708},{"t":"2015-06-09T08:20","s":"Spruce forest 1","v":-0.163},{"t":"2015-06-09T09:20","s":"Spruce forest 1","v":-0.169},
      {"t":"2015-06-09T10:00","s":"Spruce forest 1","v":-0.1658},{"t":"2015-06-09T10:50","s":"Spruce forest 1","v":-0.169},{"t":"2015-06-09T12:00","s":"Spruce forest 1","v":-0.174},
      {"t":"2015-06-09T15:10","s":"Spruce forest 1","v":-0.185},{"t":"2015-06-09T21:00","s":"Spruce forest 1","v":-0.190},{"t":"2015-06-10T02:50","s":"Spruce forest 1","v":-0.197},
      {"t":"2015-06-10T08:30","s":"Spruce forest 1","v":-0.202},{"t":"2015-06-10T14:20","s":"Spruce forest 1","v":-0.207},{"t":"2015-06-10T20:10","s":"Spruce forest 1","v":-0.212},
      {"t":"2015-06-10T23:55","s":"Spruce forest 1","v":-0.218},

      {"t":"2015-06-08T15:35","s":"Shrub 2","v":-0.2734},{"t":"2015-06-08T21:50","s":"Shrub 2","v":-0.277},{"t":"2015-06-08T22:20","s":"Shrub 2","v":-0.2754},
      {"t":"2015-06-08T23:00","s":"Shrub 2","v":-0.254},{"t":"2015-06-08T23:30","s":"Shrub 2","v":-0.242},{"t":"2015-06-09T00:50","s":"Shrub 2","v":-0.2304},
      {"t":"2015-06-09T02:20","s":"Shrub 2","v":-0.2157},{"t":"2015-06-09T04:20","s":"Shrub 2","v":-0.206},{"t":"2015-06-09T06:20","s":"Shrub 2","v":-0.1928},
      {"t":"2015-06-09T07:50","s":"Shrub 2","v":-0.184},{"t":"2015-06-09T08:30","s":"Shrub 2","v":-0.1766},{"t":"2015-06-09T10:50","s":"Shrub 2","v":-0.1742},
      {"t":"2015-06-09T13:20","s":"Shrub 2","v":-0.1766},{"t":"2015-06-09T15:50","s":"Shrub 2","v":-0.1805},{"t":"2015-06-09T20:50","s":"Shrub 2","v":-0.184},
      {"t":"2015-06-10T02:50","s":"Shrub 2","v":-0.186},{"t":"2015-06-10T08:30","s":"Shrub 2","v":-0.187},{"t":"2015-06-10T14:20","s":"Shrub 2","v":-0.188},
      {"t":"2015-06-10T20:10","s":"Shrub 2","v":-0.190},{"t":"2015-06-10T23:55","s":"Shrub 2","v":-0.192},

      {"t":"2015-06-08T15:35","s":"Spruce forest 2","v":-0.372},{"t":"2015-06-08T21:50","s":"Spruce forest 2","v":-0.372},{"t":"2015-06-08T22:20","s":"Spruce forest 2","v":-0.3695},
      {"t":"2015-06-08T23:10","s":"Spruce forest 2","v":-0.3445},{"t":"2015-06-09T00:20","s":"Spruce forest 2","v":-0.337},{"t":"2015-06-09T02:30","s":"Spruce forest 2","v":-0.332},
      {"t":"2015-06-09T03:30","s":"Spruce forest 2","v":-0.333},{"t":"2015-06-09T05:50","s":"Spruce forest 2","v":-0.3345},{"t":"2015-06-09T07:40","s":"Spruce forest 2","v":-0.3335},
      {"t":"2015-06-09T08:50","s":"Spruce forest 2","v":-0.3305},{"t":"2015-06-09T11:10","s":"Spruce forest 2","v":-0.333},{"t":"2015-06-09T12:50","s":"Spruce forest 2","v":-0.337},
      {"t":"2015-06-09T15:10","s":"Spruce forest 2","v":-0.3405},{"t":"2015-06-09T18:00","s":"Spruce forest 2","v":-0.3455},{"t":"2015-06-09T21:00","s":"Spruce forest 2","v":-0.3485},
      {"t":"2015-06-10T00:30","s":"Spruce forest 2","v":-0.351},{"t":"2015-06-10T05:40","s":"Spruce forest 2","v":-0.3535},{"t":"2015-06-10T12:00","s":"Spruce forest 2","v":-0.357},
      {"t":"2015-06-10T16:40","s":"Spruce forest 2","v":-0.3605},{"t":"2015-06-10T20:10","s":"Spruce forest 2","v":-0.362},{"t":"2015-06-10T23:55","s":"Spruce forest 2","v":-0.362}
    ]
  },
  "spacing": 129,
  "bounds": "flush",
  "resolve": {"scale": {"color": "independent"}, "legend": {"color": "independent"}},
  "vconcat": [
    {
      "width": 731.4,
      "height": 400,
      "title": {"text": ["Rainfall 1", "2019"], "align": "center", "dx": 968.2, "dy": 103},
      "resolve": {"scale": {"y": "independent"}, "axis": {"x": "independent"}},
      "layer": [
        {
          "data": {"name": "rain1"},
          "mark": {"type": "rule", "strokeWidth": 1.3},
          "encoding": {
            "x": {
              "field": "t", "type": "temporal",
              "scale": {"range": [10.8, 731.4], "domain": [{"year": 2019, "month": 10, "date": 8, "hours": 14, "minutes": 20}, {"year": 2019, "month": 10, "date": 10, "hours": 12, "minutes": 35}]},
              "axis": {
                "orient": "top", "labels": false, "domain": false, "grid": false, "title": null,
                "ticks": true, "tickSize": -8,
                "values": [
                  {"year": 2019, "month": 10, "date": 8, "hours": 14, "minutes": 20}, {"year": 2019, "month": 10, "date": 8, "hours": 20, "minutes": 20},
                  {"year": 2019, "month": 10, "date": 9, "hours": 2, "minutes": 20}, {"year": 2019, "month": 10, "date": 9, "hours": 8, "minutes": 20},
                  {"year": 2019, "month": 10, "date": 9, "hours": 14, "minutes": 20}, {"year": 2019, "month": 10, "date": 9, "hours": 20, "minutes": 20},
                  {"year": 2019, "month": 10, "date": 10, "hours": 2, "minutes": 20}, {"year": 2019, "month": 10, "date": 10, "hours": 8, "minutes": 20}
                ]
              }
            },
            "y": {
              "field": "p", "type": "quantitative",
              "scale": {"domain": [0, 3], "reverse": true, "nice": false, "zero": false},
              "axis": {
                "orient": "right", "title": "Precipitation (mm)", "titlePadding": 14, "grid": false,
                "values": [0, 0.5, 1, 1.5, 2, 2.5, 3],
                "labelExpr": "replace(format(datum.value, '~g'), '.', ',')"
              }
            },
            "y2": {"datum": 0},
            "color": {"datum": "precipitation", "type": "nominal"}
          }
        },
        {
          "data": {"name": "gwl1"},
          "mark": {"type": "line", "strokeWidth": 4, "interpolate": "monotone"},
          "encoding": {
            "x": {
              "field": "t", "type": "temporal",
              "scale": {"range": [10.8, 731.4], "domain": [{"year": 2019, "month": 10, "date": 8, "hours": 14, "minutes": 20}, {"year": 2019, "month": 10, "date": 10, "hours": 12, "minutes": 35}]},
              "axis": {
                "orient": "bottom", "title": null, "domain": false, "ticks": false, "tickSize": 0, "grid": false,
                "labelPadding": 24, "labelLineHeight": 31, "labelFlush": false, "labelOverlap": false, "labelAlign": "center", "labelBaseline": "top",
                "values": [
                  {"year": 2019, "month": 10, "date": 8, "hours": 14, "minutes": 20}, {"year": 2019, "month": 10, "date": 8, "hours": 20, "minutes": 20},
                  {"year": 2019, "month": 10, "date": 9, "hours": 2, "minutes": 20}, {"year": 2019, "month": 10, "date": 9, "hours": 8, "minutes": 20},
                  {"year": 2019, "month": 10, "date": 9, "hours": 14, "minutes": 20}, {"year": 2019, "month": 10, "date": 9, "hours": 20, "minutes": 20},
                  {"year": 2019, "month": 10, "date": 10, "hours": 2, "minutes": 20}, {"year": 2019, "month": 10, "date": 10, "hours": 8, "minutes": 20}
                ],
                "labelExpr": "[timeFormat(datum.value, '%-d.%-m.'), timeFormat(datum.value, '%-H:%M')]"
              }
            },
            "y": {
              "field": "v", "type": "quantitative",
              "scale": {"domain": [-0.6, 0], "nice": false, "zero": false},
              "axis": {
                "orient": "left", "offset": -10.8, "title": "GWL (m)", "titlePadding": 11, "grid": true,
                "values": [0, -0.1, -0.2, -0.3, -0.4, -0.5, -0.6],
                "labelExpr": "datum.value == 0 ? '0' : '-' + replace(format(abs(datum.value), '.1f'), '.', ',')"
              }
            },
            "color": {
              "field": "s", "type": "nominal",
              "scale": {
                "domain": ["precipitation", "Spruce forest 1", "Spruce forest 2", "Sedge", "Shrub 1", "Shrub 2"],
                "range": ["#4472C4", "#92D050", "#00B050", "#767171", "#375623", "#FFC000"]
              },
              "legend": {
                "title": null, "orient": "none", "legendX": 835.9, "legendY": 241.5, "rowPadding": 19.2,
                "encode": {"symbols": {"update": {
                  "shape": {"signal": "datum.value === 'precipitation' ? 'M-1,-0.27H1V0.27H-1Z' : 'M-1,-0.07H1V0.07H-1Z'"},
                  "fill": {"signal": "datum.value === 'precipitation' ? '#4472C4' : datum.value === 'Spruce forest 1' ? '#92D050' : datum.value === 'Spruce forest 2' ? '#00B050' : datum.value === 'Sedge' ? '#767171' : datum.value === 'Shrub 1' ? '#375623' : '#FFC000'"},
                  "stroke": {"value": "transparent"},
                  "strokeWidth": {"value": 0},
                  "opacity": {"value": 1}
                }}}
              }
            }
          }
        }
      ]
    },
    {
      "width": 768.7,
      "height": 469,
      "title": {"text": ["Rainfall 2", "2015"], "align": "center", "dx": 968.2, "dy": 109},
      "resolve": {"scale": {"y": "independent"}, "axis": {"x": "independent"}},
      "layer": [
        {
          "data": {"name": "rain2"},
          "mark": {"type": "rule", "strokeWidth": 1.3},
          "encoding": {
            "x": {
              "field": "t", "type": "temporal",
              "scale": {"range": [10.8, 768.7], "domain": [{"year": 2015, "month": 5, "date": 19, "hours": 13, "minutes": 30}, {"year": 2015, "month": 5, "date": 21, "hours": 15, "minutes": 35}]},
              "axis": {
                "orient": "top", "labels": false, "domain": false, "grid": false, "title": null,
                "ticks": true, "tickSize": -8,
                "values": [
                  {"year": 2015, "month": 5, "date": 19, "hours": 13, "minutes": 30}, {"year": 2015, "month": 5, "date": 19, "hours": 19, "minutes": 30},
                  {"year": 2015, "month": 5, "date": 20, "hours": 1, "minutes": 30}, {"year": 2015, "month": 5, "date": 20, "hours": 7, "minutes": 30},
                  {"year": 2015, "month": 5, "date": 20, "hours": 13, "minutes": 30}, {"year": 2015, "month": 5, "date": 20, "hours": 19, "minutes": 30},
                  {"year": 2015, "month": 5, "date": 21, "hours": 1, "minutes": 30}, {"year": 2015, "month": 5, "date": 21, "hours": 7, "minutes": 30},
                  {"year": 2015, "month": 5, "date": 21, "hours": 13, "minutes": 30}
                ]
              }
            },
            "y": {
              "field": "p", "type": "quantitative",
              "scale": {"domain": [0, 3], "reverse": true, "nice": false, "zero": false},
              "axis": {
                "orient": "right", "title": "Precipitation (mm)", "titlePadding": 14, "grid": false,
                "values": [0, 0.5, 1, 1.5, 2, 2.5, 3],
                "labelExpr": "replace(format(datum.value, '~g'), '.', ',')"
              }
            },
            "y2": {"datum": 0},
            "color": {"datum": "precipitation", "type": "nominal"}
          }
        },
        {
          "data": {"name": "gwl2"},
          "mark": {"type": "line", "strokeWidth": 4, "interpolate": "monotone"},
          "encoding": {
            "x": {
              "field": "t", "type": "temporal",
              "scale": {"range": [10.8, 768.7], "domain": [{"year": 2015, "month": 5, "date": 19, "hours": 13, "minutes": 30}, {"year": 2015, "month": 5, "date": 21, "hours": 15, "minutes": 35}]},
              "axis": {
                "orient": "bottom", "title": null, "domain": false, "ticks": false, "tickSize": 0, "grid": false,
                "labelPadding": 24, "labelLineHeight": 31, "labelFlush": false, "labelOverlap": false, "labelAlign": "center", "labelBaseline": "top",
                "values": [
                  {"year": 2015, "month": 5, "date": 19, "hours": 13, "minutes": 30}, {"year": 2015, "month": 5, "date": 19, "hours": 19, "minutes": 30},
                  {"year": 2015, "month": 5, "date": 20, "hours": 1, "minutes": 30}, {"year": 2015, "month": 5, "date": 20, "hours": 7, "minutes": 30},
                  {"year": 2015, "month": 5, "date": 20, "hours": 13, "minutes": 30}, {"year": 2015, "month": 5, "date": 20, "hours": 19, "minutes": 30},
                  {"year": 2015, "month": 5, "date": 21, "hours": 1, "minutes": 30}, {"year": 2015, "month": 5, "date": 21, "hours": 7, "minutes": 30},
                  {"year": 2015, "month": 5, "date": 21, "hours": 13, "minutes": 30}
                ],
                "labelExpr": "[timeFormat(datum.value, '%-d.%-m.'), timeFormat(datum.value, '%-H:%M')]"
              }
            },
            "y": {
              "field": "v", "type": "quantitative",
              "scale": {"domain": [-0.6, 0], "nice": false, "zero": false},
              "axis": {
                "orient": "left", "offset": -10.8, "title": "GWL (m)", "titlePadding": 11, "grid": true,
                "values": [0, -0.1, -0.2, -0.3, -0.4, -0.5, -0.6],
                "labelExpr": "datum.value == 0 ? '0' : '-' + replace(format(abs(datum.value), '.1f'), '.', ',')"
              }
            },
            "color": {
              "field": "s", "type": "nominal",
              "scale": {
                "domain": ["precipitation", "Spruce forest 1", "Spruce forest 2", "Sedge", "Shrub 2"],
                "range": ["#4472C4", "#92D050", "#00B050", "#767171", "#FFC000"]
              },
              "legend": {
                "title": null, "orient": "none", "legendX": 836, "legendY": 368.9, "rowPadding": 15.6,
                "encode": {"symbols": {"update": {
                  "shape": {"signal": "datum.value === 'precipitation' ? 'M-1,-0.27H1V0.27H-1Z' : 'M-1,-0.07H1V0.07H-1Z'"},
                  "fill": {"signal": "datum.value === 'precipitation' ? '#4472C4' : datum.value === 'Spruce forest 1' ? '#92D050' : datum.value === 'Spruce forest 2' ? '#00B050' : datum.value === 'Sedge' ? '#767171' : datum.value === 'Shrub 1' ? '#375623' : '#FFC000'"},
                  "stroke": {"value": "transparent"},
                  "strokeWidth": {"value": 0},
                  "opacity": {"value": 1}
                }}}
              }
            }
          }
        }
      ]
    },
    {
      "width": 752.4,
      "height": 409,
      "title": {"text": ["Rainfall 3", "2015"], "align": "center", "dx": 968.2, "dy": 108},
      "resolve": {"scale": {"y": "independent"}, "axis": {"x": "independent"}},
      "layer": [
        {
          "data": {"name": "rain3"},
          "mark": {"type": "rule", "strokeWidth": 1.3},
          "encoding": {
            "x": {
              "field": "t", "type": "temporal",
              "scale": {"domain": [{"year": 2015, "month": 6, "date": 8, "hours": 15, "minutes": 35}, {"year": 2015, "month": 6, "date": 10, "hours": 23, "minutes": 55}]},
              "axis": {
                "orient": "top", "labels": false, "domain": false, "grid": false, "title": null,
                "ticks": true, "tickSize": -8,
                "values": [
                  {"year": 2015, "month": 6, "date": 8, "hours": 15, "minutes": 40}, {"year": 2015, "month": 6, "date": 8, "hours": 21, "minutes": 40},
                  {"year": 2015, "month": 6, "date": 9, "hours": 3, "minutes": 40}, {"year": 2015, "month": 6, "date": 9, "hours": 9, "minutes": 40},
                  {"year": 2015, "month": 6, "date": 9, "hours": 15, "minutes": 40}, {"year": 2015, "month": 6, "date": 9, "hours": 21, "minutes": 40},
                  {"year": 2015, "month": 6, "date": 10, "hours": 3, "minutes": 40}, {"year": 2015, "month": 6, "date": 10, "hours": 9, "minutes": 40},
                  {"year": 2015, "month": 6, "date": 10, "hours": 15, "minutes": 40}, {"year": 2015, "month": 6, "date": 10, "hours": 21, "minutes": 40}
                ]
              }
            },
            "y": {
              "field": "p", "type": "quantitative",
              "scale": {"domain": [0, 3], "reverse": true, "nice": false, "zero": false},
              "axis": {
                "orient": "right", "title": "Precipitation (mm)", "titlePadding": 14, "grid": false,
                "values": [0, 0.5, 1, 1.5, 2, 2.5, 3],
                "labelExpr": "replace(format(datum.value, '~g'), '.', ',')"
              }
            },
            "y2": {"datum": 0},
            "color": {"datum": "precipitation", "type": "nominal"}
          }
        },
        {
          "data": {"name": "gwl3"},
          "mark": {"type": "line", "strokeWidth": 4, "interpolate": "monotone"},
          "encoding": {
            "x": {
              "field": "t", "type": "temporal",
              "scale": {"domain": [{"year": 2015, "month": 6, "date": 8, "hours": 15, "minutes": 35}, {"year": 2015, "month": 6, "date": 10, "hours": 23, "minutes": 55}]},
              "axis": {
                "orient": "bottom", "title": null, "domain": false, "ticks": false, "tickSize": 0, "grid": false,
                "labelPadding": 24, "labelLineHeight": 31, "labelFlush": false, "labelOverlap": false, "labelAlign": "center", "labelBaseline": "top",
                "values": [
                  {"year": 2015, "month": 6, "date": 8, "hours": 15, "minutes": 40}, {"year": 2015, "month": 6, "date": 8, "hours": 21, "minutes": 40},
                  {"year": 2015, "month": 6, "date": 9, "hours": 3, "minutes": 40}, {"year": 2015, "month": 6, "date": 9, "hours": 9, "minutes": 40},
                  {"year": 2015, "month": 6, "date": 9, "hours": 15, "minutes": 40}, {"year": 2015, "month": 6, "date": 9, "hours": 21, "minutes": 40},
                  {"year": 2015, "month": 6, "date": 10, "hours": 3, "minutes": 40}, {"year": 2015, "month": 6, "date": 10, "hours": 9, "minutes": 40},
                  {"year": 2015, "month": 6, "date": 10, "hours": 15, "minutes": 40}, {"year": 2015, "month": 6, "date": 10, "hours": 21, "minutes": 40}
                ],
                "labelExpr": "[timeFormat(datum.value, '%-d.%-m.'), timeFormat(datum.value, '%-H:%M')]"
              }
            },
            "y": {
              "field": "v", "type": "quantitative",
              "scale": {"domain": [-0.6, 0], "nice": false, "zero": false},
              "axis": {
                "orient": "left", "title": "GWL (m)", "titlePadding": 11, "grid": true,
                "values": [0, -0.1, -0.2, -0.3, -0.4, -0.5, -0.6],
                "labelExpr": "datum.value == 0 ? '0' : '-' + replace(format(abs(datum.value), '.1f'), '.', ',')"
              }
            },
            "color": {
              "field": "s", "type": "nominal",
              "scale": {
                "domain": ["precipitation", "Spruce forest 1", "Spruce forest 2", "Sedge", "Shrub 2"],
                "range": ["#4472C4", "#92D050", "#00B050", "#767171", "#FFC000"]
              },
              "legend": {
                "title": null, "orient": "none", "legendX": 836.1, "legendY": 328.9, "rowPadding": 11.3,
                "encode": {"symbols": {"update": {
                  "shape": {"signal": "datum.value === 'precipitation' ? 'M-1,-0.27H1V0.27H-1Z' : 'M-1,-0.07H1V0.07H-1Z'"},
                  "fill": {"signal": "datum.value === 'precipitation' ? '#4472C4' : datum.value === 'Spruce forest 1' ? '#92D050' : datum.value === 'Spruce forest 2' ? '#00B050' : datum.value === 'Sedge' ? '#767171' : datum.value === 'Shrub 1' ? '#375623' : '#FFC000'"},
                  "stroke": {"value": "transparent"},
                  "strokeWidth": {"value": 0},
                  "opacity": {"value": 1}
                }}}
              }
            }
          }
        }
      ]
    }
  ]
}
